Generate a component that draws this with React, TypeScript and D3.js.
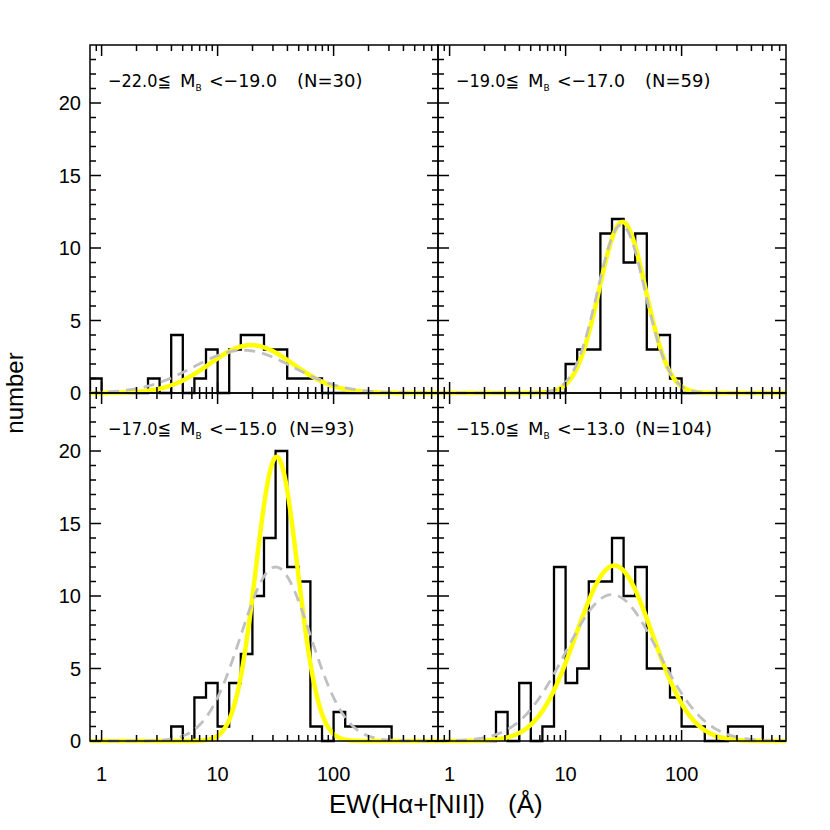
import React from "react";
import * as d3 from "d3";

// ---- data ----
// histogram bins: lower edges in log10(EW/Å), width 0.1 dex
const binLowerEdges = [
  -0.1, 0.0, 0.1, 0.2, 0.3, 0.4, 0.5, 0.6, 0.7, 0.8, 0.9, 1.0, 1.1, 1.2, 1.3,
  1.4, 1.5, 1.6, 1.7, 1.8, 1.9, 2.0, 2.1, 2.2, 2.3, 2.4, 2.5, 2.6, 2.7, 2.8,
];
const binWidth = 0.1;

const countsP1 = [1, 0, 0, 0, 0, 1, 0, 4, 0, 1, 3, 0, 3, 4, 4, 3, 3, 1, 1, 1, 0, 0, 0, 0, 0, 0, 0, 0, 0, 0];
const countsP2 = [0, 0, 0, 0, 0, 0, 0, 0, 0, 0, 0, 2, 3, 3, 11, 12, 9, 11, 3, 4, 1, 0, 0, 0, 0, 0, 0, 0, 0, 0];
const countsP3 = [0, 0, 0, 0, 0, 0, 0, 1, 0, 3, 4, 1, 4, 6, 10, 14, 20, 12, 11, 1, 0, 2, 1, 1, 1, 1, 0, 0, 0, 0];
const countsP4 = [0, 0, 0, 0, 0, 2, 0, 4, 0, 1, 12, 4, 5, 11, 11, 14, 10, 12, 5, 5, 3, 1, 1, 0, 0, 1, 1, 1, 0, 0];

// Gaussian fits in log10(EW): [peak, centre, sigma]
const fitYellowPeak = [3.3, 11.8, 19.6, 12.1];
const fitYellowCentre = [1.29, 1.49, 1.51, 1.42];
const fitYellowSigma = [0.36, 0.2, 0.18, 0.33];
const fitGreyPeak = [2.95, 11.6, 12.0, 10.1];
const fitGreyCentre = [1.22, 1.48, 1.5, 1.4];
const fitGreySigma = [0.43, 0.205, 0.3, 0.4];

const magLo = ["−22.0", "−19.0", "−17.0", "−15.0"];
const magHi = ["−19.0", "−17.0", "−15.0", "−13.0"];
const nGal = [30, 59, 93, 104];

const xMajorTicks = [1, 10, 100];
const xMinorTicks = [0.9, 2, 3, 4, 5, 6, 7, 8, 9, 20, 30, 40, 50, 60, 70, 80, 90, 200, 300, 400, 500, 600, 700];
const yMajorTicks = [0, 5, 10, 15, 20];
const yMinorTicks = [1, 2, 3, 4, 6, 7, 8, 9, 11, 12, 13, 14, 16, 17, 18, 19, 21, 22, 23];

// ---- layout ----
const PW = 348;
const PH = 348;
const LEFT = 90;
const TOP = 45;
const panelPos = [
  { x: LEFT, y: TOP },
  { x: LEFT + PW, y: TOP },
  { x: LEFT, y: TOP + PH },
  { x: LEFT + PW, y: TOP + PH },
];
const nXOffset = [207, 207, 199, 197];
const allCounts = [countsP1, countsP2, countsP3, countsP4];

const logMin = -0.1;
const logMax = 2.9;

function Panel({ i }: { i: number }) {
  const { x: px, y: py } = panelPos[i];
  const xs = d3.scaleLog().domain([Math.pow(10, logMin), Math.pow(10, logMax)]).range([0, PW]);
  const ys = d3.scaleLinear().domain([0, 24]).range([PH, 0]);
  const counts = allCounts[i];

  // histogram step path
  let d = `M${xs(Math.pow(10, binLowerEdges[0]))},${ys(0)}`;
  binLowerEdges.forEach((e, k) => {
    const x0 = xs(Math.pow(10, e));
    const x1 = xs(Math.pow(10, e + binWidth));
    d += `L${x0},${ys(counts[k])}L${x1},${ys(counts[k])}`;
  });
  d += `L${xs(Math.pow(10, binLowerEdges[binLowerEdges.length - 1] + binWidth))},${ys(0)}`;

  const samples = d3.range(0, 401).map((k) => logMin + ((logMax - logMin) * k) / 400);
  const line = d3
    .line<[number, number]>()
    .x((p) => xs(Math.pow(10, p[0])))
    .y((p) => ys(p[1]));
  const gauss = (A: number, mu: number, s: number) =>
    line(samples.map((L) => [L, A * Math.exp(-((L - mu) ** 2) / (2 * s * s))] as [number, number]));

  const showYLabels = i % 2 === 0;
  const showXLabels = i >= 2;
  const ty = 42;

  return (
    <g transform={`translate(${px},${py})`}>
      <defs>
        <clipPath id={`clip${i}`}>
          <rect x={0} y={-10} width={PW} height={PH + 20} />
        </clipPath>
      </defs>
      <g clipPath={`url(#clip${i})`}>
        <path d={d} fill="none" stroke="#000" strokeWidth={2.3} strokeLinejoin="miter" />
        <path
          d={gauss(fitYellowPeak[i], fitYellowCentre[i], fitYellowSigma[i]) || ""}
          fill="none"
          stroke="#ffff00"
          strokeWidth={4.5}
        />
        <path
          d={gauss(fitGreyPeak[i], fitGreyCentre[i], fitGreySigma[i]) || ""}
          fill="none"
          stroke="#c0c0c0"
          strokeWidth={2.8}
          strokeDasharray="11,7"
        />
      </g>
      {/* frame */}
      <rect x={0} y={0} width={PW} height={PH} fill="none" stroke="#000" strokeWidth={1.5} />
      {/* x ticks top and bottom */}
      {xMajorTicks.map((t) => (
        <g key={`xM${t}`}>
          <line x1={xs(t)} x2={xs(t)} y1={PH} y2={PH - 11} stroke="#000" strokeWidth={1.5} />
          <line x1={xs(t)} x2={xs(t)} y1={0} y2={11} stroke="#000" strokeWidth={1.5} />
        </g>
      ))}
      {xMinorTicks.map((t) => (
        <g key={`xm${t}`}>
          <line x1={xs(t)} x2={xs(t)} y1={PH} y2={PH - 6} stroke="#000" strokeWidth={1.5} />
          <line x1={xs(t)} x2={xs(t)} y1={0} y2={6} stroke="#000" strokeWidth={1.5} />
        </g>
      ))}
      {/* y ticks left and right */}
      {yMajorTicks.map((t) => (
        <g key={`yM${t}`}>
          <line x1={0} x2={11} y1={ys(t)} y2={ys(t)} stroke="#000" strokeWidth={1.5} />
          <line x1={PW} x2={PW - 11} y1={ys(t)} y2={ys(t)} stroke="#000" strokeWidth={1.5} />
        </g>
      ))}
      {yMinorTicks.map((t) => (
        <g key={`ym${t}`}>
          <line x1={0} x2={6} y1={ys(t)} y2={ys(t)} stroke="#000" strokeWidth={1.5} />
          <line x1={PW} x2={PW - 6} y1={ys(t)} y2={ys(t)} stroke="#000" strokeWidth={1.5} />
        </g>
      ))}
      {showYLabels &&
        yMajorTicks.map((t) => (
          <text
            key={`yl${t}`}
            x={-9}
            y={ys(t)}
            dy="0.36em"
            textAnchor="end"
            fontFamily="Liberation Sans, Arial, sans-serif"
            fontSize={20}
          >
            {t}
          </text>
        ))}
      {showXLabels &&
        xMajorTicks.map((t) => (
          <text
            key={`xl${t}`}
            x={xs(t)}
            y={PH + 40}
            textAnchor="middle"
            fontFamily="Liberation Sans, Arial, sans-serif"
            fontSize={20}
          >
            {t}
          </text>
        ))}
      {/* panel title */}
      <g fontFamily="DejaVu Sans, sans-serif" fontSize={18}>
        <text x={18} y={ty} textLength={63} lengthAdjust="spacingAndGlyphs">
          {`${magLo[i]}≦`}
        </text>
        <text x={90} y={ty}>
          M<tspan fontSize={9} dx={0} dy={4}>B</tspan>
        </text>
        <text x={119} y={ty} textLength={68} lengthAdjust="spacingAndGlyphs">
          {`<${magHi[i]}`}
        </text>
        <text x={nXOffset[i]} y={ty}>{`(N=${nGal[i]})`}</text>
      </g>
    </g>
  );
}

export default function App() {
  return (
    <svg width={830} height={830} style={{ display: "block", position: "absolute", left: 0, top: 0 }}>
      <rect width={830} height={830} fill="#fff" />
      {[0, 1, 2, 3].map((i) => (
        <Panel key={i} i={i} />
      ))}
      <text
        transform={`translate(23,${TOP + PH}) rotate(-90)`}
        textAnchor="middle"
        fontFamily="Liberation Sans, Arial, sans-serif"
        fontSize={24}
      >
        number
      </text>
      <text x={329} y={813} fontFamily="Liberation Sans, Arial, sans-serif" fontSize={26}>
        EW(Hα+[NII])
      </text>
      <text x={508} y={813} fontFamily="Liberation Sans, Arial, sans-serif" fontSize={26}>
        (Å)
      </text>
    </svg>
  );
}
